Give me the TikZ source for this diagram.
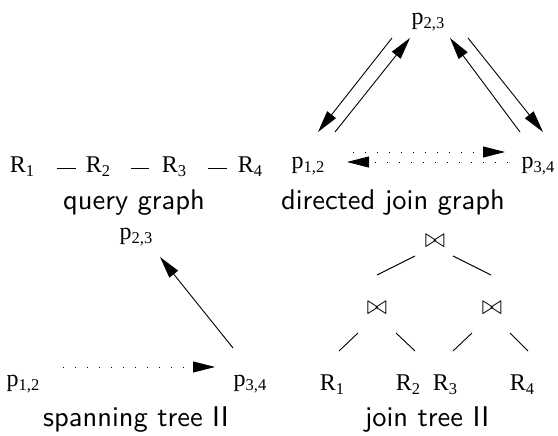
\documentclass[tikz,border=0pt]{standalone}
\usepackage{fontspec}
\usepackage{graphicx}
\setmainfont{Liberation Serif}
\setsansfont{lmsans10-regular.otf}
\usetikzlibrary{arrows.meta,calc}
\newcommand\labf{\rmfamily\fontsize{24}{24}\selectfont}
\newcommand\capf{\sffamily\fontsize{28.5}{28.5}\selectfont}
\newcommand\sbs[1]{\raisebox{-4pt}{\fontsize{16.5}{16.5}\selectfont #1}}
\newcommand\bowsym{\fontsize{25}{25}\selectfont\scalebox{1}[1.1]{$\bowtie$}}
\begin{document}
\begin{tikzpicture}[x=1pt,y=-1pt,
  lab/.style={font=\labf, inner sep=0pt, anchor=base},
  captext/.style={font=\capf, inner sep=0pt, anchor=base},
  bow/.style={inner sep=0pt, anchor=center},
  arr/.style={line width=0.9pt, -{Triangle[length=22pt,width=11pt]}},
  dots/.style={arr, dash pattern=on 1pt off 11pt},
  edge/.style={line width=0.9pt}]
\useasboundingbox (0,0) rectangle (558,436);
% query graph
\node[lab] (q1) at (22,173) {R\sbs{1}};
\node[lab] (q2) at (98,173) {R\sbs{2}};
\node[lab] (q3) at (174,173) {R\sbs{3}};
\node[lab] (q4) at (250,173) {R\sbs{4}};
\draw[edge] ($(q1.base)+(35,-5)$) -- ($(q2.base)+(-22,-5)$);
\draw[edge] ($(q2.base)+(33,-5)$) -- ($(q3.base)+(-25,-5)$);
\draw[edge] ($(q3.base)+(34,-5)$) -- ($(q4.base)+(-23,-5)$);
\node[captext] (qcap) at (134,210) {query graph};
% directed join graph
\node[lab] (d23) at (428,25) {p\sbs{2,3}};
\node[lab] (d12) at (308,168) {p\sbs{1,2}};
\node[lab] (d34) at (538,168) {p\sbs{3,4}};
\draw[arr] ($(d23.base)+(-36,13)$) -- ($(d12.base)+(10,-36)$);
\draw[arr] ($(d12.base)+(27,-36)$) -- ($(d23.base)+(-18,13)$);
\draw[arr] ($(d34.base)+(-18,-36)$) -- ($(d23.base)+(22,13)$);
\draw[arr] ($(d23.base)+(40,13)$) -- ($(d34.base)+(5,-36)$);
\draw[dots] ($(d12.base)+(45,-16)$) -- ($(d34.base)+(-33,-16)$);
\draw[dots] ($(d34.base)+(-30,-6)$) -- ($(d12.base)+(39,-6)$);
\node[captext] (dcap) at (393,210) {directed join graph};
% spanning tree II
\node[lab] (s23) at (136,240) {p\sbs{2,3}};
\node[lab] (s12) at (23,386) {p\sbs{1,2}};
\node[lab] (s34) at (250,386) {p\sbs{3,4}};
\draw[arr] ($(s34.base)+(-17,-38)$) -- ($(s23.base)+(24,17)$);
\draw[dots] ($(s12.base)+(40,-19)$) -- ($(s34.base)+(-35,-19)$);
\node[captext] (scap) at (136,426) {spanning tree II};
% join tree II
\node[bow] (j0) at (435,241) {\bowsym};
\node[bow] (jl) at (377,308) {\bowsym};
\node[bow] (jr) at (492,308) {\bowsym};
\node[lab] (jR1) at (332,390) {R\sbs{1}};
\node[lab] (jR2) at (408,390) {R\sbs{2}};
\node[lab] (jR3) at (445,390) {R\sbs{3}};
\node[lab] (jR4) at (522,390) {R\sbs{4}};
\draw[edge] ($(j0)+(-20,15)$) -- ($(jl)+(0,-33)$);
\draw[edge] ($(j0)+(18,15)$) -- ($(jr)+(-1,-33)$);
\draw[edge] ($(jl)+(-19,25)$) -- ($(jR1.base)+(7,-39)$);
\draw[edge] ($(jl)+(19,25)$) -- ($(jR2.base)+(7,-39)$);
\draw[edge] ($(jr)+(-20,25)$) -- ($(jR3.base)+(8,-39)$);
\draw[edge] ($(jr)+(18,25)$) -- ($(jR4.base)+(6,-39)$);
\node[captext] (jcap) at (427,426) {join tree II};
\end{tikzpicture}
\end{document}
